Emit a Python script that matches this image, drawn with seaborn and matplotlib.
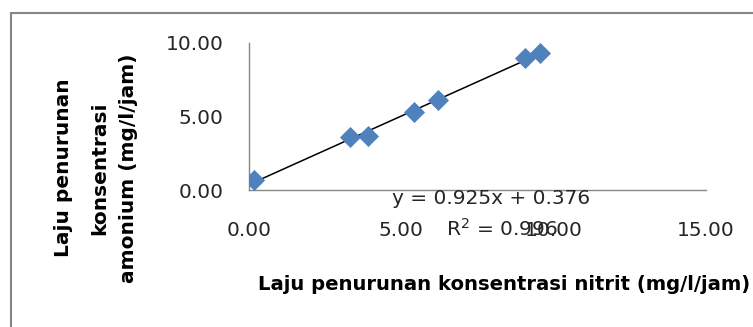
import matplotlib
matplotlib.use("Agg")
import matplotlib.pyplot as plt
import seaborn as sns
import pandas as pd
from matplotlib.patches import Rectangle

# data
nitrit = [0.15, 3.31, 3.91, 5.42, 6.21, 9.07, 9.54]
amonium = [0.68, 3.63, 3.67, 5.28, 6.10, 9.00, 9.30]
xticks = [0, 5, 10, 15]
yticks = [0, 5, 10]
eq_text = "y = 0.925x + 0.376"
r2_text = "R$^2$ = 0.996"
ylabel_lines = ["Laju penurunan", "konsentrasi", "amonium (mg/l/jam)"]

df = pd.DataFrame({"x": nitrit, "y": amonium})

sns.set_style("white")
plt.rcParams['font.family'] = ['DejaVu Sans']
plt.rcParams['mathtext.default'] = 'regular'

W, H = 753, 327
fs = 14.5
fig = plt.figure(figsize=(W / 100, H / 100), dpi=100)
ax = fig.add_axes([249 / W, 1 - 190 / H, (706 - 249) / W, (190 - 43) / H])

grey = "#868686"
txt = "#262626"
sns.regplot(data=df, x="x", y="y", ax=ax, ci=None, scatter=False,
            line_kws=dict(color="black", lw=1.1))
sns.scatterplot(data=df, x="x", y="y", ax=ax, marker="D", s=115,
                color="#4F81BD", edgecolor="#4F81BD", linewidth=0, zorder=3)

ax.set_xlim(0, 15)
ax.set_ylim(0, 10)
ax.set_xticks(xticks)
ax.set_yticks(yticks)
ax.set_xticklabels([f"{v:.2f}" for v in xticks])
ax.set_yticklabels([f"{v:.2f}" for v in yticks])
ax.tick_params(axis="both", direction="out", length=6.5, width=1, color=grey,
               labelsize=fs, labelcolor=txt)
ax.tick_params(axis="x", pad=16)
ax.tick_params(axis="y", pad=12)
for s in ["top", "right"]:
    ax.spines[s].set_visible(False)
for s in ["left", "bottom"]:
    ax.spines[s].set_color(grey)
    ax.spines[s].set_linewidth(1)

ax.set_xlabel("")
ax.set_ylabel("")
fig.text(504 / W, 1 - 285 / H, "Laju penurunan konsentrasi nitrit (mg/l/jam)",
         ha="center", va="center", fontsize=14.1, fontweight="bold", color="black")
for xpos, line in zip([64, 100, 129], ylabel_lines):
    fig.text(xpos / W, 1 - 168 / H, line, ha="center", va="center",
             rotation=90, fontsize=fs, fontweight="bold", color="black")

fig.text(491 / W, 1 - 198 / H, eq_text, ha="center", va="center",
         fontsize=fs, color=txt)
fig.text(446 / W, 1 - 229 / H, r2_text, ha="left", va="center",
         fontsize=fs, color=txt)

fig.patches.append(Rectangle((11 / W, -0.2), 1.2, (H - 13) / H + 0.2,
                             transform=fig.transFigure, fill=False,
                             edgecolor=grey, lw=1.5))

fig.savefig("out.png", dpi=100)
